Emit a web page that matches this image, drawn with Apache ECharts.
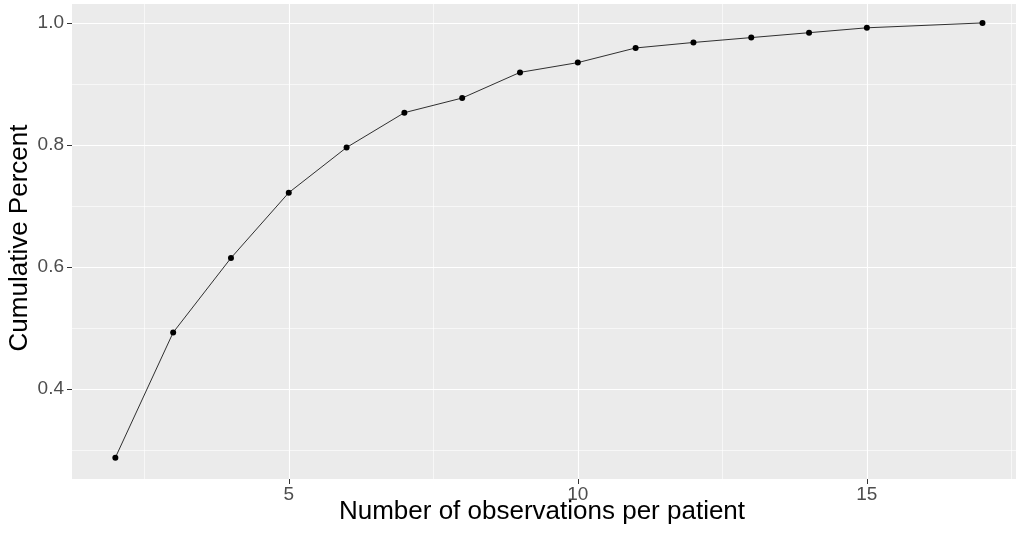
<!DOCTYPE html>
<html>
<head>
<meta charset="utf-8">
<script src="https://cdn.jsdelivr.net/npm/echarts@6/dist/echarts.min.js"></script>
<style>
html,body{margin:0;padding:0;background:#fff;}
#chart{width:1016px;height:537px;}
</style>
</head>
<body>
<div id="chart"></div>
<script>
var xValues = [2, 3, 4, 5, 6, 7, 8, 9, 10, 11, 12, 13, 14, 15, 17];
var yValues = [0.288, 0.493, 0.615, 0.722, 0.796, 0.853, 0.877, 0.919, 0.935, 0.959, 0.968, 0.976, 0.984, 0.992, 1.0];
var xTicks = [5, 10, 15];
var xMinor = [2.5, 7.5, 12.5, 17.5];
var yTicks = [0.4, 0.6, 0.8, 1.0];
var yMinor = [0.3, 0.5, 0.7, 0.9];
var xTitle = 'Number of observations per patient';
var yTitle = 'Cumulative Percent';

var FONT = '"Liberation Sans", Arial, sans-serif';
var chart = echarts.init(document.getElementById('chart'), null, {renderer: 'canvas'});

var gridLines = [];
xMinor.forEach(function (v) { gridLines.push({xAxis: v, lineStyle: {color: '#fff', width: 0.6, type: 'solid'}}); });
yMinor.forEach(function (v) { gridLines.push({yAxis: v, lineStyle: {color: '#fff', width: 0.6, type: 'solid'}}); });
xTicks.forEach(function (v) { gridLines.push({xAxis: v, lineStyle: {color: '#fff', width: 1.1, type: 'solid'}}); });
yTicks.forEach(function (v) { gridLines.push({yAxis: v, lineStyle: {color: '#fff', width: 1.1, type: 'solid'}}); });

var option = {
  animation: false,
  backgroundColor: '#ffffff',
  grid: {
    left: 72, top: 4, right: 0, height: 475,
    show: true, backgroundColor: '#EBEBEB', borderWidth: 0, containLabel: false
  },
  xAxis: {
    type: 'value', min: 1.25, max: 17.58,
    axisLine: {show: false},
    axisTick: {show: true, length: 5, customValues: xTicks, lineStyle: {color: '#333333', width: 1}},
    axisLabel: {show: true, customValues: xTicks, margin: 6, color: '#4D4D4D', fontSize: 19, fontFamily: FONT},
    splitLine: {show: false}
  },
  yAxis: {
    type: 'value', min: 0.253, max: 1.031,
    axisLine: {show: false},
    axisTick: {show: true, length: 5, customValues: yTicks, lineStyle: {color: '#333333', width: 1}},
    axisLabel: {show: true, customValues: yTicks, margin: 8, color: '#4D4D4D', fontSize: 19, fontFamily: FONT,
      formatter: function (v) { return v.toFixed(1); }},
    splitLine: {show: false}
  },
  graphic: [
    {type: 'text', x: 542, y: 512, z: 10,
      style: {text: xTitle, textAlign: 'center', textVerticalAlign: 'middle', fill: '#000', font: '26px ' + FONT}},
    {type: 'text', x: 20, y: 238, rotation: Math.PI / 2, z: 10,
      style: {text: yTitle, textAlign: 'center', textVerticalAlign: 'middle', fill: '#000', font: '26px ' + FONT}}
  ],
  series: [{
    type: 'line',
    data: xValues.map(function (x, i) { return [x, yValues[i]]; }),
    symbol: 'circle', symbolSize: 6,
    itemStyle: {color: '#000'},
    lineStyle: {color: '#1a1a1a', width: 0.9},
    z: 3,
    markLine: {
      silent: true, symbol: 'none', z: 1, animation: false,
      label: {show: false},
      emphasis: {disabled: true},
      data: gridLines
    }
  }]
};
chart.setOption(option);
</script>
</body>
</html>
